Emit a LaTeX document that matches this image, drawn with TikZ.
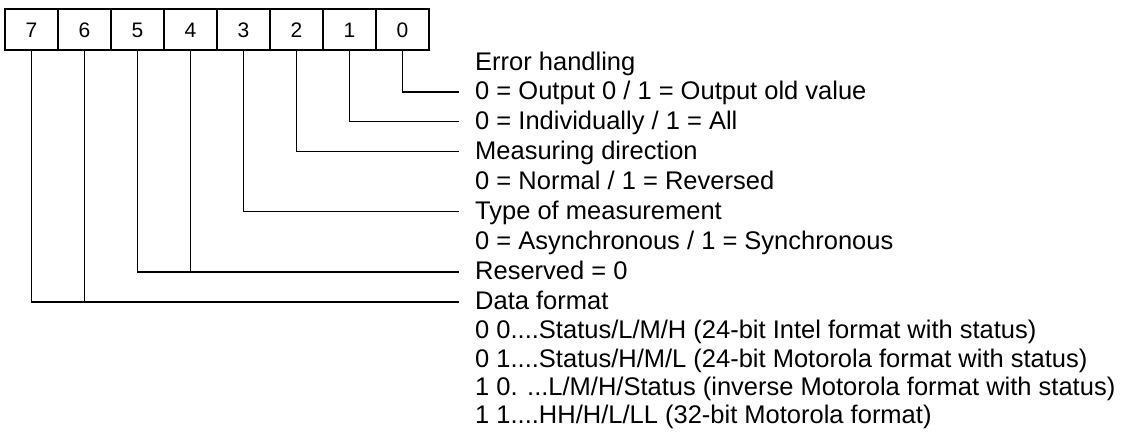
\documentclass[tikz,border=0pt]{standalone}
\usepackage{fontspec}
\setmainfont{Liberation Sans}
\begin{document}
\begin{tikzpicture}[x=1pt,y=-1pt,
  bitcell/.style={draw,line width=1.1pt,minimum width=53pt,minimum height=41pt,
    inner sep=0pt,text height=15pt,text depth=0pt,font=\fontsize{21}{25}\selectfont},
  desc/.style={anchor=base west,inner sep=0pt,font=\fontsize{25.5}{29}\selectfont},
  wire/.style={line width=1.1pt,shorten >=16pt}]
\useasboundingbox (0,0) rectangle (1144,439);

% register cells, bit 7 on the left
\foreach \b [evaluate=\b as \cx using {5+26.5+(7-\b)*53}] in {7,6,5,4,3,2,1,0}
  \node[bitcell] (b\b) at (\cx,29.5) {\b};

% description lines (placed by baseline)
\node[desc] (t1)  at (475,70.0)  {Error handling};
\node[desc] (t2)  at (475,99.5)  {0 = Output 0 / 1 = Output old value};
\node[desc] (t3)  at (475,129.0) {0 = Individually / 1 = All};
\node[desc] (t4)  at (475,159.0) {Measuring direction};
\node[desc] (t5)  at (475,189.0) {0 = Normal / 1 = Reversed};
\node[desc] (t6)  at (475,219.0) {Type of measurement};
\node[desc] (t7)  at (475,249.0) {0 = Asynchronous / 1 = Synchronous};
\node[desc] (t8)  at (475,279.5) {Reserved = 0};
\node[desc] (t9)  at (475,309.5) {Data format};
\node[desc] (t10) at (475,338.5) {0 0....Status/L/M/H (24-bit Intel format with status)};
\node[desc] (t11) at (475,367.0) {0 1....Status/H/M/L (24-bit Motorola format with status)};
\node[desc] (t12) at (475,395.0) {1 0. ...L/M/H/Status (inverse Motorola format with status)};
\node[desc] (t13) at (475,423.0) {1 1....HH/H/L/LL (32-bit Motorola format)};

% lead ends: left edge of a label, a little below its mid cap height
\foreach \t in {2,3,4,6,8,9}
  \coordinate (e\t) at ([yshift=7.5pt]t\t.base west);

% bit leads
\foreach \b/\t in {0/2,1/3,2/4,3/6,5/8,7/9}
  \draw[wire] (b\b.south) |- (e\t);
\draw[line width=1.1pt] (b4.south) -- (b4.south |- e8);
\draw[line width=1.1pt] (b6.south) -- (b6.south |- e9);
\end{tikzpicture}
\end{document}
